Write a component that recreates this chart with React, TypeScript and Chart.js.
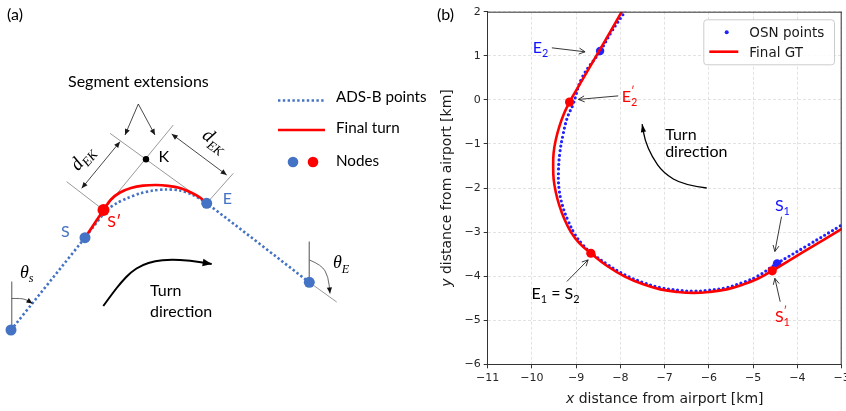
import React, { useEffect, useRef } from 'react';
import { Chart, registerables } from 'chart.js';

Chart.register(...registerables);

// ================= Panel (b): trajectory (km from airport) =================
const xTickValues = [-11, -10, -9, -8, -7, -6, -5, -4, -3];
const yTickValues = [-6, -5, -4, -3, -2, -1, 0, 1, 2];

// OSN points (blue dots)
const osnX = [-7.78, -7.9, -8.2, -8.46, -8.87, -9.07, -9.2, -9.3, -9.37, -9.4, -9.39, -9.31, -9.18, -9.03, -8.86, -8.67, -8.3, -7.9, -7.5, -7.1, -6.7, -6.35, -6.0, -5.6, -5.2, -4.9, -4.46, -3.8, -3.0, -2.8];
const osnY = [2.2, 2.0, 1.55, 1.1, 0.5, -0.1, -0.4, -0.8, -1.2, -1.6, -2.0, -2.4, -2.75, -3.05, -3.28, -3.46, -3.73, -3.97, -4.14, -4.26, -4.32, -4.34, -4.32, -4.26, -4.13, -4.0, -3.71, -3.32, -2.84, -2.72];

// Final ground truth (red line)
const gtX = [-7.86, -7.97, -8.48, -9.02, -9.15, -9.27, -9.38, -9.46, -9.51, -9.52, -9.51, -9.46, -9.38, -9.27, -9.12, -8.93, -8.67, -8.3, -7.9, -7.5, -7.1, -6.7, -6.35, -6.0, -5.6, -5.2, -4.9, -4.57, -3.8, -3.0, -2.8];
const gtY = [2.2, 2.0, 1.11, 0.18, -0.05, -0.3, -0.6, -0.9, -1.2, -1.5, -1.8, -2.1, -2.4, -2.7, -3.0, -3.25, -3.48, -3.77, -4.01, -4.18, -4.3, -4.36, -4.38, -4.36, -4.3, -4.18, -4.06, -3.88, -3.41, -2.93, -2.81];

// nodes
const osnNodeX = [-8.46, -4.46]; // E2, S1
const osnNodeY = [1.11, -3.71];
const gtNodeX = [-9.15, -8.67, -4.57]; // E2', E1=S2, S1'
const gtNodeY = [-0.05, -3.48, -3.88];

const legendLabelsB = ['OSN points', 'Final GT'];
const xTitleB = ['x', ' distance from airport [km]'];
const yTitleB = ['y', ' distance from airport [km]'];

type Part = { t: string; k?: 'n' | 'sub' | 'sup' | 'supx' };
type Label = { parts: Part[]; x: number; y: number; color: string };

const labelsB: Label[] = [
  { parts: [{ t: 'E' }, { t: '2', k: 'sub' }], x: -9.98, y: 1.07, color: '#1010ff' },
  { parts: [{ t: 'E' }, { t: '′', k: 'supx' }, { t: '2', k: 'sub' }], x: -7.97, y: -0.04, color: '#ff0000' },
  { parts: [{ t: 'Turn' }], x: -6.99, y: -0.91, color: '#000' },
  { parts: [{ t: 'direction' }], x: -6.99, y: -1.29, color: '#000' },
  { parts: [{ t: 'S' }, { t: '1', k: 'sub' }], x: -4.51, y: -2.53, color: '#1010ff' },
  { parts: [{ t: 'S' }, { t: '′', k: 'supx' }, { t: '1', k: 'sub' }], x: -4.51, y: -5.03, color: '#ff0000' },
  { parts: [{ t: 'E' }, { t: '1', k: 'sub' }, { t: ' = S' }, { t: '2', k: 'sub' }], x: -10.01, y: -4.52, color: '#000' },
];

// straight pointer arrows (from -> to), km
const pointersB = [
  [-9.55, 1.18, -8.8, 1.09],
  [-8.05, 0.09, -8.95, 0.01],
  [-4.36, -2.65, -4.51, -3.44],
  [-4.39, -4.58, -4.51, -4.05],
  [-9.21, -4.12, -8.73, -3.63],
];
// curved "turn direction" arrow, km
const turnArrowB = [[-6.05, -2.0], [-6.58, -1.93], [-7.03, -1.66], [-7.29, -1.29], [-7.45, -0.91], [-7.51, -0.55]];

// ================= Panel (a): schematic (diagram units) =================
const adsbX = [11, 85, 106.5, 117, 127, 140, 153, 166, 180, 193, 206.7, 309.3];
const adsbY = [330, 237.7, 210.5, 203, 198.3, 193.5, 190.5, 189.5, 190.5, 195, 203.3, 282.3];
const turnStraightX = [85, 103.5];
const turnStraightY = [237.7, 210];
const turnArcX = [103.5, 111, 120, 131, 143, 156, 168, 180, 191, 200, 206.7];
const turnArcY = [210, 199.5, 192.5, 188, 185.7, 185, 185.8, 188, 192.5, 197.5, 203.3];
const nodeAX = [11, 85, 206.7, 309.3];
const nodeAY = [330, 237.7, 203.3, 282.3];
const nodeRedAX = [103.5];
const nodeRedAY = [210];
const kX = [146];
const kY = [159.3];
// thin guide lines [x1,y1,x2,y2]
const guideSegs = [
  [66.7, 181.7, 103.5, 210],
  [103.5, 210, 173.3, 125],
  [110, 133.3, 206.7, 203.3],
  [206.7, 203.3, 233.3, 173.3],
  [11.7, 281.7, 11.7, 330],
  [309.3, 241.7, 309.3, 282.3],
  [309.3, 282.3, 336.7, 302],
];
const dimArrows = [
  [81.7, 188.3, 120, 141.7],
  [171.7, 134, 226.7, 175],
];
const extArrows = [
  [138.3, 104, 125, 135],
  [138.3, 104, 155, 135],
];
const thetaSArc = [[11.7, 298.5], [21, 298.3], [27, 300], [32.5, 303.5]];
const thetaEArc = [[309.5, 260], [321.7, 265], [328.3, 276.7], [330, 293.5]];
const turnArrowA = [[103.3, 306], [112, 294], [121, 282.5], [131, 272], [142, 265], [155, 261], [170, 259.5], [190, 260.5], [211.7, 264]];

const textA: Label[] = [
  { parts: [{ t: '(a)' }], x: 7, y: 20, color: '#000' },
  { parts: [{ t: 'Segment extensions' }], x: 68, y: 86.7, color: '#000' },
  { parts: [{ t: 'K' }], x: 158.5, y: 161.7, color: '#000' },
  { parts: [{ t: 'S' }], x: 61, y: 236.7, color: '#4472C4' },
  { parts: [{ t: 'S′' }], x: 107.3, y: 226.7, color: '#ff0000' },
  { parts: [{ t: 'E' }], x: 222.7, y: 204, color: '#4472C4' },
  { parts: [{ t: 'Turn' }], x: 150, y: 296, color: '#000' },
  { parts: [{ t: 'direction' }], x: 150, y: 316.7, color: '#000' },
];
const legendLabelsA = ['ADS-B points', 'Final turn', 'Nodes'];

const BLUE_A = '#4472C4';
const OSN_BLUE = '#2222ff';
const RED = '#ff0000';
const LATO = 'Lato, "Open Sans", sans-serif';
const DEJAVU = '"DejaVu Sans", sans-serif';
const SERIF = '"Liberation Serif", "DejaVu Serif", serif';

// ---------- helpers ----------
const zip = (xs: number[], ys: number[]) => xs.map((x, i) => ({ x, y: ys[i] }));
const fmtTick = (v: any) => (Number(v) < 0 ? '\u2212' + Math.abs(Number(v)) : String(v));

function measureParts(ctx: CanvasRenderingContext2D, parts: Part[], size: number, family: string, style = '') {
  let w = 0;
  for (const p of parts) {
    const k = p.k || 'n';
    const s = k === 'n' ? size : size * 0.68;
    ctx.font = `${style} ${s}px ${family}`;
    if (k !== 'supx') w += ctx.measureText(p.t).width;
  }
  return w;
}

function drawParts(ctx: CanvasRenderingContext2D, x: number, y: number, parts: Part[], size: number, family: string, color: string, style = '') {
  let cx = x;
  ctx.fillStyle = color;
  ctx.textBaseline = 'alphabetic';
  ctx.textAlign = 'left';
  for (const p of parts) {
    const k = p.k || 'n';
    const s = k === 'n' ? size : size * 0.68;
    ctx.font = `${style} ${s}px ${family}`;
    const dy = k === 'sub' ? size * 0.25 : k === 'n' ? 0 : -size * 0.42;
    ctx.fillText(p.t, cx, y + dy);
    if (k !== 'supx') cx += ctx.measureText(p.t).width;
  }
}

function head(ctx: CanvasRenderingContext2D, tip: number[], from: number[], len: number, half: number, filled: boolean) {
  const a = Math.atan2(tip[1] - from[1], tip[0] - from[0]);
  const bx = tip[0] - len * Math.cos(a);
  const by = tip[1] - len * Math.sin(a);
  const nx = -Math.sin(a) * half;
  const ny = Math.cos(a) * half;
  ctx.beginPath();
  if (filled) {
    ctx.moveTo(tip[0], tip[1]);
    ctx.lineTo(bx + nx, by + ny);
    ctx.lineTo(bx - nx, by - ny);
    ctx.closePath();
    ctx.fill();
  } else {
    ctx.moveTo(bx + nx, by + ny);
    ctx.lineTo(tip[0], tip[1]);
    ctx.lineTo(bx - nx, by - ny);
    ctx.stroke();
  }
}

function smoothPath(ctx: CanvasRenderingContext2D, pts: number[][]) {
  ctx.beginPath();
  ctx.moveTo(pts[0][0], pts[0][1]);
  for (let i = 1; i < pts.length - 1; i++) {
    const mx = (pts[i][0] + pts[i + 1][0]) / 2;
    const my = (pts[i][1] + pts[i + 1][1]) / 2;
    ctx.quadraticCurveTo(pts[i][0], pts[i][1], mx, my);
  }
  const l = pts[pts.length - 1];
  ctx.lineTo(l[0], l[1]);
  ctx.stroke();
}

// ================= Panel (a) component =================
function PanelA() {
  const ref = useRef<HTMLCanvasElement>(null);
  useEffect(() => {
    const canvas = ref.current!;
    const annot = {
      id: 'annotA',
      afterDatasetsDraw(chart: any) {
        const ctx: CanvasRenderingContext2D = chart.ctx;
        const sx = chart.scales.x;
        const sy = chart.scales.y;
        const P = (x: number, y: number) => [sx.getPixelForValue(x), sy.getPixelForValue(y)];
        ctx.save();
        ctx.strokeStyle = '#1a1a1a';
        ctx.fillStyle = '#1a1a1a';
        ctx.lineWidth = 0.8;
        for (const d of dimArrows) {
          const a = P(d[0], d[1]);
          const b = P(d[2], d[3]);
          ctx.beginPath();
          ctx.moveTo(a[0], a[1]);
          ctx.lineTo(b[0], b[1]);
          ctx.stroke();
          head(ctx, b, a, 6, 2.6, true);
          head(ctx, a, b, 6, 2.6, true);
        }
        for (const d of extArrows) {
          const a = P(d[0], d[1]);
          const b = P(d[2], d[3]);
          ctx.beginPath();
          ctx.moveTo(a[0], a[1]);
          ctx.lineTo(b[0], b[1]);
          ctx.stroke();
          head(ctx, b, a, 6, 2.6, true);
        }
        for (const arc of [thetaSArc, thetaEArc]) {
          const pts = arc.map((p) => P(p[0], p[1]));
          ctx.strokeStyle = '#444';
          ctx.fillStyle = '#111';
          ctx.lineWidth = 0.8;
          smoothPath(ctx, pts);
          head(ctx, pts[pts.length - 1], pts[pts.length - 2], 6, 2.6, true);
        }
        {
          const pts = turnArrowA.map((p) => P(p[0], p[1]));
          ctx.strokeStyle = '#000';
          ctx.fillStyle = '#000';
          ctx.lineWidth = 2;
          smoothPath(ctx, pts);
          head(ctx, pts[pts.length - 1], pts[pts.length - 2], 9, 3.8, true);
        }
        for (const t of textA) {
          const p = P(t.x, t.y);
          drawParts(ctx, p[0], p[1], t.parts, 16, LATO, t.color);
        }
        {
          const p = P(20, 277.7);
          drawParts(ctx, p[0], p[1], [{ t: 'θ' }, { t: 's', k: 'sub' }], 18, SERIF, '#000', 'italic');
          const q = P(333, 268);
          drawParts(ctx, q[0], q[1], [{ t: 'θ' }, { t: 'E', k: 'sub' }], 18, SERIF, '#000', 'italic');
          const dek: Part[] = [{ t: 'd' }, { t: 'EK', k: 'sub' }];
          const spots = [
            [83.3, 159, -50.6],
            [214, 141.7, 36.7],
          ];
          for (const s of spots) {
            const c = P(s[0], s[1]);
            ctx.save();
            ctx.translate(c[0], c[1]);
            ctx.rotate((s[2] * Math.PI) / 180);
            const w = measureParts(ctx, dek, 19, SERIF, 'italic');
            drawParts(ctx, -w / 2, 4, dek, 19, SERIF, '#000', 'italic');
            ctx.restore();
          }
        }
        {
          const l1a = P(278, 100.5);
          const l1b = P(325, 100.5);
          ctx.save();
          ctx.strokeStyle = BLUE_A;
          ctx.lineWidth = 2.6;
          ctx.setLineDash([2.4, 2.4]);
          ctx.beginPath();
          ctx.moveTo(l1a[0], l1a[1]);
          ctx.lineTo(l1b[0], l1b[1]);
          ctx.stroke();
          ctx.restore();
          const l2a = P(278, 130);
          const l2b = P(325, 130);
          ctx.strokeStyle = RED;
          ctx.lineWidth = 2.7;
          ctx.beginPath();
          ctx.moveTo(l2a[0], l2a[1]);
          ctx.lineTo(l2b[0], l2b[1]);
          ctx.stroke();
          const n1 = P(293, 162);
          const n2 = P(313, 162);
          ctx.fillStyle = BLUE_A;
          ctx.beginPath();
          ctx.arc(n1[0], n1[1], 5.3, 0, Math.PI * 2);
          ctx.fill();
          ctx.fillStyle = RED;
          ctx.beginPath();
          ctx.arc(n2[0], n2[1], 5.3, 0, Math.PI * 2);
          ctx.fill();
          const ys = [102.3, 133.3, 165.7];
          legendLabelsA.forEach((t, i) => {
            const p = P(336, ys[i]);
            drawParts(ctx, p[0], p[1], [{ t }], 15.2, LATO, '#000');
          });
        }
        ctx.restore();
      },
    };
    const guideSets = guideSegs.map((g) => ({
      data: [{ x: g[0], y: g[1] }, { x: g[2], y: g[3] }],
      showLine: true,
      borderColor: '#7f7f7f',
      borderWidth: 0.8,
      pointRadius: 0,
      order: 5,
    }));
    const chart = new Chart(canvas, {
      type: 'scatter',
      data: {
        datasets: [
          { data: zip(kX, kY), pointRadius: 3.2, pointBackgroundColor: '#000', pointBorderWidth: 0, order: 0 } as any,
          { data: zip(nodeRedAX, nodeRedAY), pointRadius: 6, pointBackgroundColor: RED, pointBorderWidth: 0, order: 0 },
          { data: zip(nodeAX, nodeAY), pointRadius: 5.5, pointBackgroundColor: BLUE_A, pointBorderWidth: 0, order: 1 },
          { data: zip(turnStraightX, turnStraightY), showLine: true, borderColor: RED, borderWidth: 2.7, pointRadius: 0, order: 2 },
          { data: zip(turnArcX, turnArcY), showLine: true, borderColor: RED, borderWidth: 2.7, pointRadius: 0, tension: 0.3, order: 2 },
          { data: zip(adsbX, adsbY), showLine: true, borderColor: BLUE_A, borderWidth: 2.6, borderDash: [2.4, 2.4], pointRadius: 0, tension: 0.3, order: 3 },
          ...guideSets,
        ],
      },
      options: {
        responsive: false,
        animation: false,
        devicePixelRatio: 1,
        events: [],
        layout: { padding: 0, autoPadding: false } as any,
        plugins: { legend: { display: false }, tooltip: { enabled: false } },
        scales: {
          x: { type: 'linear', display: false, min: 0, max: 430 },
          y: { type: 'linear', display: false, min: 0, max: 411, reverse: true },
        },
      },
      plugins: [annot],
    });
    return () => chart.destroy();
  }, []);
  return <canvas ref={ref} width={430} height={411} style={{ position: 'absolute', left: 0, top: 0 }} />;
}

// ================= Panel (b) component =================
function PanelB() {
  const ref = useRef<HTMLCanvasElement>(null);
  useEffect(() => {
    const canvas = ref.current!;
    const annot = {
      id: 'annotB',
      afterDatasetsDraw(chart: any) {
        const ctx: CanvasRenderingContext2D = chart.ctx;
        const sx = chart.scales.x;
        const sy = chart.scales.y;
        const ca = chart.chartArea;
        const P = (x: number, y: number) => [sx.getPixelForValue(x), sy.getPixelForValue(y)];
        ctx.save();
        ctx.strokeStyle = '#333';
        ctx.lineWidth = 1;
        ctx.beginPath();
        ctx.moveTo(ca.left, ca.top + 0.5);
        ctx.lineTo(ca.right, ca.top + 0.5);
        ctx.moveTo(ca.right - 0.5, ca.top);
        ctx.lineTo(ca.right - 0.5, ca.bottom);
        ctx.stroke();
        ctx.strokeStyle = '#222';
        ctx.lineWidth = 0.9;
        for (const a of pointersB) {
          const p1 = P(a[0], a[1]);
          const p2 = P(a[2], a[3]);
          ctx.beginPath();
          ctx.moveTo(p1[0], p1[1]);
          ctx.lineTo(p2[0], p2[1]);
          ctx.stroke();
          head(ctx, p2, p1, 6, 3, false);
        }
        {
          const pts = turnArrowB.map((p) => P(p[0], p[1]));
          ctx.strokeStyle = '#000';
          ctx.fillStyle = '#000';
          ctx.lineWidth = 1.3;
          smoothPath(ctx, pts);
          head(ctx, pts[pts.length - 1], pts[pts.length - 2], 8, 2.6, true);
        }
        for (const l of labelsB) {
          const p = P(l.x, l.y);
          drawParts(ctx, p[0], p[1], l.parts, 16, LATO, l.color);
        }
        {
          const bx = ca.right - 138.4;
          const by = ca.top + 7.6;
          const bw = 130.7;
          const bh = 45;
          ctx.fillStyle = 'rgba(255,255,255,0.85)';
          ctx.strokeStyle = '#cccccc';
          ctx.lineWidth = 1;
          ctx.beginPath();
          (ctx as any).roundRect(bx + 0.5, by + 0.5, bw, bh, 3);
          ctx.fill();
          ctx.stroke();
          ctx.fillStyle = OSN_BLUE;
          ctx.beginPath();
          ctx.arc(bx + 23.4, by + 13, 2, 0, Math.PI * 2);
          ctx.fill();
          ctx.strokeStyle = RED;
          ctx.lineWidth = 2.6;
          ctx.beginPath();
          ctx.moveTo(bx + 6, by + 32.4);
          ctx.lineTo(bx + 35, by + 32.4);
          ctx.stroke();
          drawParts(ctx, bx + 46, by + 17.2, [{ t: legendLabelsB[0] }], 13.5, DEJAVU, '#1a1a1a');
          drawParts(ctx, bx + 46, by + 37.4, [{ t: legendLabelsB[1] }], 13.5, DEJAVU, '#1a1a1a');
        }
        ctx.restore();
      },
      afterDraw(chart: any) {
        const ctx: CanvasRenderingContext2D = chart.ctx;
        const ca = chart.chartArea;
        ctx.save();
        const size = 14;
        const wX = measureParts(ctx, [{ t: xTitleB[1] }], size, DEJAVU);
        ctx.font = `italic ${size}px ${DEJAVU}`;
        const wx0 = ctx.measureText(xTitleB[0]).width;
        const cx = (ca.left + ca.right) / 2;
        let x0 = cx - (wX + wx0) / 2;
        drawParts(ctx, x0, 403, [{ t: xTitleB[0] }], size, DEJAVU, '#1a1a1a', 'italic');
        drawParts(ctx, x0 + wx0, 403, [{ t: xTitleB[1] }], size, DEJAVU, '#1a1a1a');
        ctx.translate(20.5, (ca.top + ca.bottom) / 2);
        ctx.rotate(-Math.PI / 2);
        const wY = measureParts(ctx, [{ t: yTitleB[1] }], size, DEJAVU);
        ctx.font = `italic ${size}px ${DEJAVU}`;
        const wy0 = ctx.measureText(yTitleB[0]).width;
        x0 = -(wY + wy0) / 2;
        drawParts(ctx, x0, 0, [{ t: yTitleB[0] }], size, DEJAVU, '#1a1a1a', 'italic');
        drawParts(ctx, x0 + wy0, 0, [{ t: yTitleB[1] }], size, DEJAVU, '#1a1a1a');
        ctx.restore();
        ctx.save();
        drawParts(ctx, 7, 19.5, [{ t: '(b)' }], 16, LATO, '#000');
        ctx.restore();
      },
    };
    const axisCommon = {
      type: 'linear' as const,
      ticks: { stepSize: 1, callback: fmtTick, font: { family: DEJAVU, size: 11 }, color: '#262626', padding: 3, maxRotation: 0, autoSkip: false },
      grid: { color: '#dadada', lineWidth: 0.8, tickColor: '#333', tickLength: 4, tickWidth: 1 },
      border: { display: true, color: '#333', width: 1, dash: [3, 2] },
    };
    const chart = new Chart(canvas, {
      type: 'scatter',
      data: {
        datasets: [
          { label: 'GT nodes', data: zip(gtNodeX, gtNodeY), pointRadius: 4.6, pointBackgroundColor: RED, pointBorderWidth: 0, order: 0 },
          { label: legendLabelsB[1], data: zip(gtX, gtY), showLine: true, borderColor: RED, borderWidth: 2.6, pointRadius: 0, tension: 0.4, order: 1 },
          { label: 'OSN nodes', data: zip(osnNodeX, osnNodeY), pointRadius: 4.2, pointBackgroundColor: OSN_BLUE, pointBorderWidth: 0, order: 2 },
          { label: legendLabelsB[0], data: zip(osnX, osnY), showLine: true, borderColor: OSN_BLUE, borderWidth: 3.2, borderDash: [0, 4.6], borderCapStyle: 'round', pointRadius: 0, tension: 0.4, order: 3 } as any,
        ],
      },
      options: {
        responsive: false,
        animation: false,
        devicePixelRatio: 1,
        events: [],
        layout: { padding: { top: 11.7, right: 4.3, left: 0, bottom: 0 }, autoPadding: false } as any,
        plugins: { legend: { display: false }, tooltip: { enabled: false } },
        scales: {
          x: {
            ...axisCommon,
            min: xTickValues[0],
            max: xTickValues[xTickValues.length - 1],
            afterFit: (s: any) => {
              s.height = 46.7;
              s.paddingLeft = 0;
              s.paddingRight = 0;
            },
          } as any,
          y: {
            ...axisCommon,
            min: yTickValues[0],
            max: yTickValues[yTickValues.length - 1],
            afterFit: (s: any) => {
              s.width = 57.7;
              s.paddingTop = 0;
              s.paddingBottom = 0;
            },
          } as any,
        },
      },
      plugins: [annot],
    });
    return () => chart.destroy();
  }, []);
  return <canvas ref={ref} width={416} height={411} style={{ position: 'absolute', left: 430, top: 0 }} />;
}

export default function App() {
  return (
    <div style={{ position: 'fixed', left: 0, top: 0, width: 846, height: 411, background: '#fff', overflow: 'hidden' }}>
      <PanelA />
      <PanelB />
    </div>
  );
}
